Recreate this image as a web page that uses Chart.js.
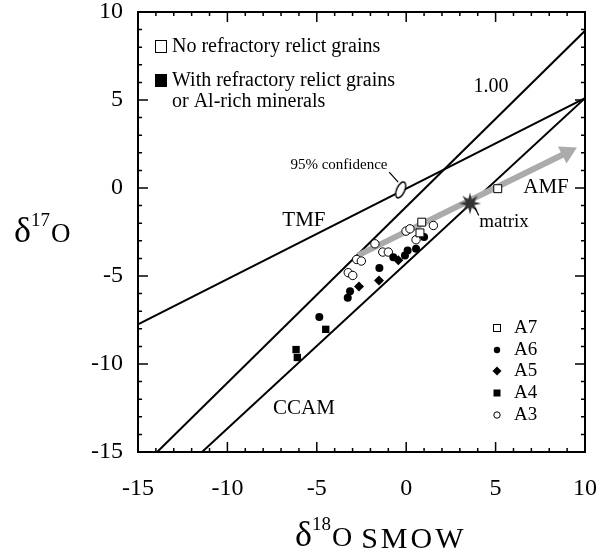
<!DOCTYPE html>
<html>
<head>
<meta charset="utf-8">
<script src="https://cdn.jsdelivr.net/npm/chart.js@4.4.1/dist/chart.umd.min.js"></script>
<style>
  html, body { margin: 0; padding: 0; background: #fff; }
  #wrap { width: 608px; height: 556px; }
</style>
</head>
<body>
<div id="wrap"><canvas id="chart" width="608" height="556"></canvas></div>
<script>
// ========================
// Data
// ========================
const xTicks = [-15, -10, -5, 0, 5, 10];
const yTicks = [-15, -10, -5, 0, 5, 10];

const a7X = [0.87, 0.77, 5.12];
const a7Y = [-1.94, -2.55, -0.04];
const a6X = [1.0, 0.55, 0.08, -0.07, -0.72, -1.5, -3.14, -3.27, -4.86];
const a6Y = [-2.79, -3.45, -3.55, -3.83, -3.93, -4.55, -5.86, -6.23, -7.33];
const a5X = [-0.44, -1.52, -2.64];
const a5Y = [-4.1, -5.25, -5.59];
const a4X = [-4.5, -6.16, -6.09];
const a4Y = [-8.03, -9.18, -9.63];
const a3X = [-0.01, 0.21, 1.52, 0.55, -1.75, -1.31, -1.0, -2.77, -2.51, -3.24, -2.99];
const a3Y = [-2.45, -2.32, -2.13, -2.94, -3.17, -3.64, -3.64, -4.06, -4.15, -4.81, -4.97];

const matrixX = [3.57];
const matrixY = [-0.88];
const confX = [-0.31];
const confY = [-0.11];

// reference lines
const slope1X = [-13.93, 10];
const slope1Y = [-15, 8.93];
const ccamX = [-11.42, 10];
const ccamY = [-15, 5.1];
const tmfX = [-15, 10];
const tmfY = [-7.75, 5.1];
const amfX = [-2.7, 9.0];
const amfY = [-3.83, 2.02];

const FONT = "'Liberation Serif', 'DejaVu Serif', serif";

const pts = (xs, ys) => xs.map((v, i) => ({ x: v, y: ys[i] }));

// custom point images
function makeStar() {
    const c = document.createElement('canvas');
    c.width = 24; c.height = 24;
    const g = c.getContext('2d');
    g.fillStyle = '#333';
    g.beginPath();
    for (let i = 0; i < 16; i++) {
        const r = i % 2 === 0 ? 11 : 4.5;
        const a = i * Math.PI / 8 - Math.PI / 2;
        g.lineTo(12 + r * Math.cos(a), 12 + r * Math.sin(a));
    }
    g.closePath();
    g.fill();
    return c;
}
function makeEllipse() {
    const c = document.createElement('canvas');
    c.width = 16; c.height = 22;
    const g = c.getContext('2d');
    g.fillStyle = '#fff';
    g.strokeStyle = '#000';
    g.lineWidth = 1.4;
    g.beginPath();
    g.ellipse(8, 11, 4, 8.5, 0.42, 0, Math.PI * 2);
    g.fill();
    g.stroke();
    return c;
}

function lineSet(xs, ys, color, width) {
    return {
        type: 'line', data: pts(xs, ys), borderColor: color, borderWidth: width,
        pointRadius: 0, showLine: true, fill: false, order: 10
    };
}

function noPad(s) {
    s.paddingTop = 0; s.paddingBottom = 0; s.paddingLeft = 0; s.paddingRight = 0;
}

// ========================
// Decorations: frame, inner ticks, labels, legends, titles
// ========================
const decor = {
    id: 'decor',
    afterDraw(chart) {
        const { ctx, chartArea: a, scales: { x, y } } = chart;
        ctx.save();
        ctx.strokeStyle = '#000';
        ctx.lineWidth = 2;
        ctx.strokeRect(a.left, a.top, a.right - a.left, a.bottom - a.top);
        ctx.lineWidth = 1.5;
        for (let v = -15; v <= 10; v++) {
            const len = v % 5 === 0 ? 10 : 4;
            const px = x.getPixelForValue(v), py = y.getPixelForValue(v);
            ctx.beginPath();
            ctx.moveTo(px, a.bottom); ctx.lineTo(px, a.bottom - len);
            ctx.moveTo(px, a.top); ctx.lineTo(px, a.top + len);
            ctx.moveTo(a.left, py); ctx.lineTo(a.left + len, py);
            ctx.moveTo(a.right, py); ctx.lineTo(a.right - len, py);
            ctx.stroke();
        }

        // in-plot labels (data coordinates)
        ctx.fillStyle = '#000';
        ctx.textAlign = 'center';
        ctx.textBaseline = 'middle';
        const txt = (s, dx, dy, size) => {
            ctx.font = size + 'px ' + FONT;
            ctx.fillText(s, x.getPixelForValue(dx), y.getPixelForValue(dy));
        };
        txt('1.00', 4.74, 5.75, 20);
        txt('TMF', -5.72, -1.85, 21);
        txt('AMF', 7.82, 0.02, 21);
        txt('matrix', 5.47, -1.96, 19);
        txt('CCAM', -5.72, -12.5, 21);
        txt('95% confidence', -3.76, 1.33, 15);

        // leader lines
        ctx.lineWidth = 1.2;
        const seg = (x1, y1, x2, y2) => {
            ctx.beginPath();
            ctx.moveTo(x.getPixelForValue(x1), y.getPixelForValue(y1));
            ctx.lineTo(x.getPixelForValue(x2), y.getPixelForValue(y2));
            ctx.stroke();
        };
        seg(-0.95, 0.9, -0.45, 0.33);
        seg(3.84, -1.12, 4.06, -1.56);

        // top-left legend
        ctx.textAlign = 'left';
        ctx.font = '20px ' + FONT;
        ctx.lineWidth = 1;
        ctx.strokeRect(155.5, 40.5, 11, 12);
        ctx.fillText('No refractory relict grains', 172, 47);
        ctx.fillRect(155, 74, 12, 13);
        ctx.fillText('With refractory relict grains', 172, 81);
        ctx.fillText('or Al-rich minerals', 172, 102);

        // bottom-right legend
        ctx.font = '19px ' + FONT;
        const ly = [328, 350, 371, 393, 415];
        const names = ['A7', 'A6', 'A5', 'A4', 'A3'];
        names.forEach((n, i) => ctx.fillText(n, 514, ly[i]));
        const mx = 497;
        ctx.lineWidth = 1;
        ctx.strokeRect(mx - 3.5, ly[0] - 3.5, 7, 7);
        ctx.beginPath(); ctx.arc(mx, ly[1], 3.2, 0, Math.PI * 2); ctx.fill();
        ctx.beginPath();
        ctx.moveTo(mx - 4.5, ly[2]); ctx.lineTo(mx, ly[2] - 4.5);
        ctx.lineTo(mx + 4.5, ly[2]); ctx.lineTo(mx, ly[2] + 4.5);
        ctx.closePath(); ctx.fill();
        ctx.fillRect(mx - 3.5, ly[3] - 3.5, 7, 7);
        ctx.beginPath(); ctx.arc(mx, ly[4], 3.2, 0, Math.PI * 2); ctx.stroke();

        // axis titles
        ctx.textBaseline = 'alphabetic';
        let cx = 14;
        ctx.font = '36px ' + FONT; ctx.fillText('δ', cx, 242); cx += ctx.measureText('δ').width;
        ctx.font = '19px ' + FONT; ctx.fillText('17', cx, 226); cx += ctx.measureText('17').width + 1;
        ctx.font = '27px ' + FONT; ctx.fillText('O', cx, 242);

        cx = 295;
        ctx.font = '36px ' + FONT; ctx.fillText('δ', cx, 546); cx += ctx.measureText('δ').width;
        ctx.font = '19px ' + FONT; ctx.fillText('18', cx, 530); cx += ctx.measureText('18').width + 1;
        ctx.font = '28px ' + FONT; ctx.fillText('O', cx, 546); cx += ctx.measureText('O').width + 9;
        ctx.font = '30px ' + FONT;
        ctx.letterSpacing = '3px';
        ctx.fillText('SMOW', cx, 548);
        ctx.restore();
    }
};

const tickFont = { family: FONT, size: 24 };

new Chart(document.getElementById('chart'), {
    type: 'scatter',
    data: {
        datasets: [
            { data: pts(matrixX, matrixY), pointStyle: makeStar(), pointRadius: 11, order: 0 },
            { data: pts(a7X, a7Y), pointStyle: 'rect', pointRadius: 5.6, backgroundColor: '#fff', borderColor: '#000', borderWidth: 1, order: 1 },
            { data: pts(a6X, a6Y), pointStyle: 'circle', pointRadius: 4, backgroundColor: '#000', borderColor: '#000', borderWidth: 0, order: 1 },
            { data: pts(a5X, a5Y), pointStyle: 'rectRot', pointRadius: 5, backgroundColor: '#000', borderColor: '#000', borderWidth: 0, order: 1 },
            { data: pts(a4X, a4Y), pointStyle: 'rect', pointRadius: 5.2, backgroundColor: '#000', borderColor: '#000', borderWidth: 0, order: 1 },
            { data: pts(a3X, a3Y), pointStyle: 'circle', pointRadius: 4.2, backgroundColor: '#fff', borderColor: '#000', borderWidth: 1, order: 1 },
            { data: pts(confX, confY), pointStyle: makeEllipse(), pointRadius: 9, order: 2 },
            { data: [pts(amfX, amfY)[1]], pointStyle: 'triangle', rotation: 63, pointRadius: 11, backgroundColor: '#ababab', borderColor: '#ababab', borderWidth: 0, order: 5 },
            lineSet(amfX, amfY, '#ababab', 6),
            lineSet(slope1X, slope1Y, '#000', 2),
            lineSet(ccamX, ccamY, '#000', 2),
            lineSet(tmfX, tmfY, '#000', 2)
        ]
    },
    options: {
        responsive: false,
        animation: false,
        layout: { padding: { top: 11, right: 23, left: 0, bottom: 0 } },
        plugins: { legend: { display: false }, tooltip: { enabled: false } },
        scales: {
            x: {
                type: 'linear', min: -15, max: 10,
                afterBuildTicks: s => { s.ticks = xTicks.map(v => ({ value: v })); },
                ticks: { font: tickFont, color: '#000', padding: 22, maxRotation: 0 },
                grid: { display: false, drawTicks: false },
                border: { display: false },
                afterFit: s => { s.height = 104; noPad(s); }
            },
            y: {
                type: 'linear', min: -15, max: 10,
                afterBuildTicks: s => { s.ticks = yTicks.map(v => ({ value: v })); },
                ticks: { font: tickFont, color: '#000', padding: 15 },
                grid: { display: false, drawTicks: false },
                border: { display: false },
                afterFit: s => { s.width = 138; noPad(s); }
            }
        }
    },
    plugins: [decor]
});
</script>
</body>
</html>
